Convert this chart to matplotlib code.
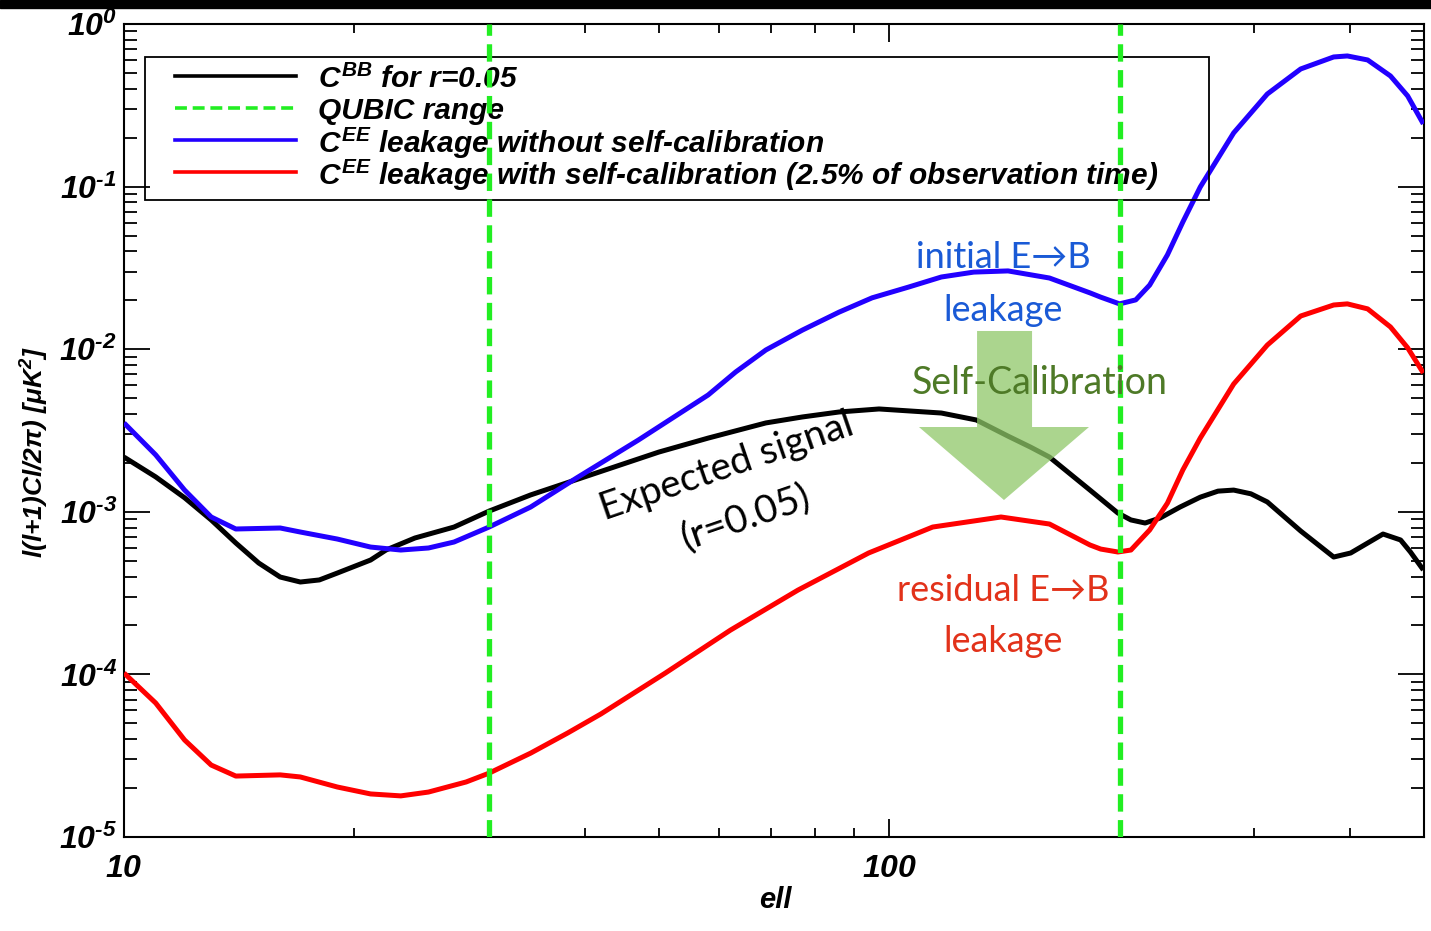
import math
import matplotlib
matplotlib.use("Agg")
import matplotlib.pyplot as plt
from matplotlib import font_manager as fm
from matplotlib.patches import Polygon, Rectangle
from matplotlib.ticker import LogLocator, FuncFormatter, NullFormatter

# ---- data ----
ELL_BB = [10, 11, 12, 13, 14, 15, 16, 17, 18, 19, 21, 22, 24, 27, 30, 34, 40, 50, 58, 69,
          77, 86, 97, 117, 130, 143, 153, 162, 183, 199, 207, 216, 226, 240, 255, 269, 282,
          297, 312, 345, 381, 401, 442, 466, 480, 499]
CL_BB = [2.17e-3, 1.64e-3, 1.22e-3, 8.91e-4, 6.43e-4, 4.84e-4, 3.97e-4, 3.70e-4, 3.81e-4, 4.20e-4,
         5.05e-4, 5.82e-4, 6.90e-4, 8.06e-4, 1.01e-3, 1.27e-3, 1.64e-3, 2.33e-3, 2.84e-3, 3.52e-3,
         3.83e-3, 4.11e-3, 4.29e-3, 4.05e-3, 3.67e-3, 2.92e-3, 2.50e-3, 2.17e-3, 1.36e-3, 9.83e-4,
         8.91e-4, 8.53e-4, 9.16e-4, 1.07e-3, 1.23e-3, 1.34e-3, 1.36e-3,
         1.29e-3, 1.15e-3, 7.62e-4, 5.27e-4, 5.58e-4, 7.30e-4, 6.71e-4, 5.66e-4, 4.39e-4]

ELL_RAW = [10, 11, 12, 13, 14, 16, 17, 19, 21, 23, 25, 27, 30, 34, 39, 47, 58, 63, 69, 77, 86,
           95, 106, 117, 129, 143, 162, 183, 189, 200, 210, 219, 231, 242, 255, 282, 312, 345,
           381, 397, 422, 452, 476, 499]
LEAK_RAW = [3.52e-3, 2.24e-3, 1.36e-3, 9.29e-4, 7.84e-4, 7.95e-4, 7.51e-4, 6.80e-4, 6.07e-4, 5.82e-4,
            5.99e-4, 6.52e-4, 8.06e-4, 1.07e-3, 1.61e-3, 2.76e-3, 5.23e-3, 7.24e-3, 9.89e-3, 1.31e-2,
            1.69e-2, 2.07e-2, 2.41e-2, 2.78e-2, 2.98e-2, 3.03e-2, 2.74e-2, 2.22e-2, 2.09e-2, 1.90e-2,
            2.01e-2, 2.48e-2, 3.80e-2, 6.06e-2, 9.94e-2, 0.214, 0.371, 0.529, 0.627, 0.636, 0.601,
            0.479, 0.361, 0.243]

ELL_SC = [10, 11, 12, 13, 14, 16, 17, 19, 21, 23, 25, 28, 30, 34, 38, 42, 51, 62, 76,
          94, 114, 140, 162, 183, 189, 199, 207, 219, 231, 242, 255, 282, 312, 345, 381, 397,
          422, 452, 476, 499]
LEAK_SC = [1.02e-4, 6.67e-5, 3.95e-5, 2.77e-5, 2.37e-5, 2.41e-5, 2.34e-5, 2.03e-5, 1.84e-5, 1.79e-5,
           1.89e-5, 2.18e-5, 2.47e-5, 3.28e-5, 4.36e-5, 5.71e-5, 1.02e-4, 1.87e-4, 3.30e-4,
           5.58e-4, 8.06e-4, 9.29e-4, 8.41e-4, 6.25e-4, 5.90e-4, 5.66e-4, 5.82e-4, 7.73e-4, 1.13e-3,
           1.81e-3, 2.84e-3, 6.11e-3, 1.06e-2, 1.60e-2, 1.87e-2, 1.90e-2, 1.77e-2, 1.37e-2,
           1.02e-2, 7.14e-3]

QUBIC_RANGE = [30, 200]
LEG_LABELS = ["$C^{BB}$ for r=0.05", "QUBIC range",
              "$C^{EE}$ leakage without self-calibration",
              "$C^{EE}$ leakage with self-calibration (2.5% of observation time)"]

# ---- fonts ----
def have(name):
    try:
        fm.findfont(fm.FontProperties(family=name), fallback_to_default=False)
        return True
    except Exception:
        return False

NARROW = "Liberation Sans Narrow" if have("Liberation Sans Narrow") else "Liberation Sans"
HUM = ["Lato", "DejaVu Sans"]
plt.rcParams.update({"mathtext.fontset": "custom",
                     "mathtext.rm": NARROW + ":italic:bold",
                     "mathtext.it": NARROW + ":italic:bold",
                     "mathtext.bf": NARROW + ":italic:bold",
                     "font.family": [NARROW, "DejaVu Sans"],
                     "font.style": "italic", "font.weight": "bold"})

BLK, BLU, RED, GRN = "black", "#2200ff", "#ff0000", "#22ee22"

fig = plt.figure(figsize=(14.31, 9.31), dpi=100)
fig.patches.append(Rectangle((0, 1 - 8 / 931), 1, 8 / 931, transform=fig.transFigure,
                             color="black", zorder=10))
ax = fig.add_axes([124 / 1431, 1 - 837 / 931, 1300 / 1431, 813 / 931])
ax.set_xscale("log"); ax.set_yscale("log")

line_kw = dict(lw=3.6, solid_joinstyle="round", solid_capstyle="butt", zorder=3)
ax.plot(ELL_BB, CL_BB, color=BLK, **line_kw)
ax.plot(ELL_RAW, LEAK_RAW, color=BLU, **line_kw)
ax.plot(ELL_SC, LEAK_SC, color=RED, **line_kw)
for l in QUBIC_RANGE:
    ax.axvline(l, color=GRN, lw=3.8, dashes=(3.3, 1.6), zorder=6)

ax.set_xlim(10, 500); ax.set_ylim(1e-5, 1)
for s in ax.spines.values(): s.set_linewidth(1.5)

ax.xaxis.set_minor_locator(LogLocator(base=10, subs=range(2, 10), numticks=20))
ax.yaxis.set_minor_locator(LogLocator(base=10, subs=range(2, 10), numticks=20))
ax.xaxis.set_minor_formatter(NullFormatter()); ax.yaxis.set_minor_formatter(NullFormatter())
ax.xaxis.set_major_formatter(FuncFormatter(lambda v, p: f"${v:.0f}$"))

def ylab(v, p):
    e = round(math.log10(v))
    return "$10^{%s}$" % (("\u2010%d" % -e) if e < 0 else "%d" % e)

ax.yaxis.set_major_formatter(FuncFormatter(ylab))
ax.tick_params(which="both", direction="in", top=True, right=True, width=1.3, labelsize=23)
ax.tick_params(axis="x", which="major", length=13, pad=12)
ax.tick_params(axis="x", which="minor", length=6.5)
ax.tick_params(axis="y", which="major", length=19, pad=5)
ax.tick_params(axis="y", which="minor", length=9.5)

fig.text(35 / 1431, 1 - 452 / 931, "l(l+1)Cl/2π) [μK$^2$]", rotation=90, ha="center", va="center",
         fontsize=19)
fig.text(775 / 1431, 1 - 900 / 931, "ell", ha="center", va="center", fontsize=21)

# legend box
ax.add_patch(Rectangle((0.0162, 0.7835), 0.8184, 0.1759, transform=ax.transAxes, fill=False,
                       edgecolor="black", lw=1.3, zorder=4))
styles = [dict(color=BLK), dict(color=GRN, dashes=(3.3, 1.6)), dict(color=BLU), dict(color=RED)]
for i, (lab, st) in enumerate(zip(LEG_LABELS, styles)):
    yy = 0.936 - i * 0.0393
    ax.plot([0.0392, 0.1323], [yy, yy], transform=ax.transAxes, lw=2.6, zorder=4, **st)
    ax.text(0.1492, yy - 0.004, lab, transform=ax.transAxes, ha="left", va="center",
            fontsize=21.5, zorder=4)

# self-calibration arrow
arrow = [(0.6562, 0.6224), (0.6985, 0.6224), (0.6985, 0.5043), (0.7423, 0.5043),
         (0.6769, 0.4145), (0.6115, 0.5043), (0.6562, 0.5043)]
ax.add_patch(Polygon(arrow, closed=True, transform=ax.transAxes, facecolor="#8fc868",
                     edgecolor="none", alpha=0.75, zorder=4))

kw = dict(transform=ax.transAxes, ha="center", va="center", family=HUM, style="normal",
          weight="normal", zorder=7)
ax.text(0.6762, 0.7134, "initial E→B", color="#1a5ad6", fontsize=26, **kw)
ax.text(0.6762, 0.6482, "leakage", color="#1a5ad6", fontsize=26, **kw)
ax.text(0.7046, 0.5584, "Self-Calibration", color="#4e7a27", fontsize=27, **kw)
ax.text(0.6762, 0.3038, "residual E→B", color="#e2321a", fontsize=26, **kw)
ax.text(0.6762, 0.2399, "leakage", color="#e2321a", fontsize=26, **kw)
ax.text(0.4640, 0.4560, "Expected signal", color="black", rotation=19, fontsize=28, **kw)
ax.text(0.4777, 0.3926, "(r=0.05)", color="black", rotation=19, fontsize=28, **kw)

fig.savefig("out.png", dpi=100, facecolor="white")
